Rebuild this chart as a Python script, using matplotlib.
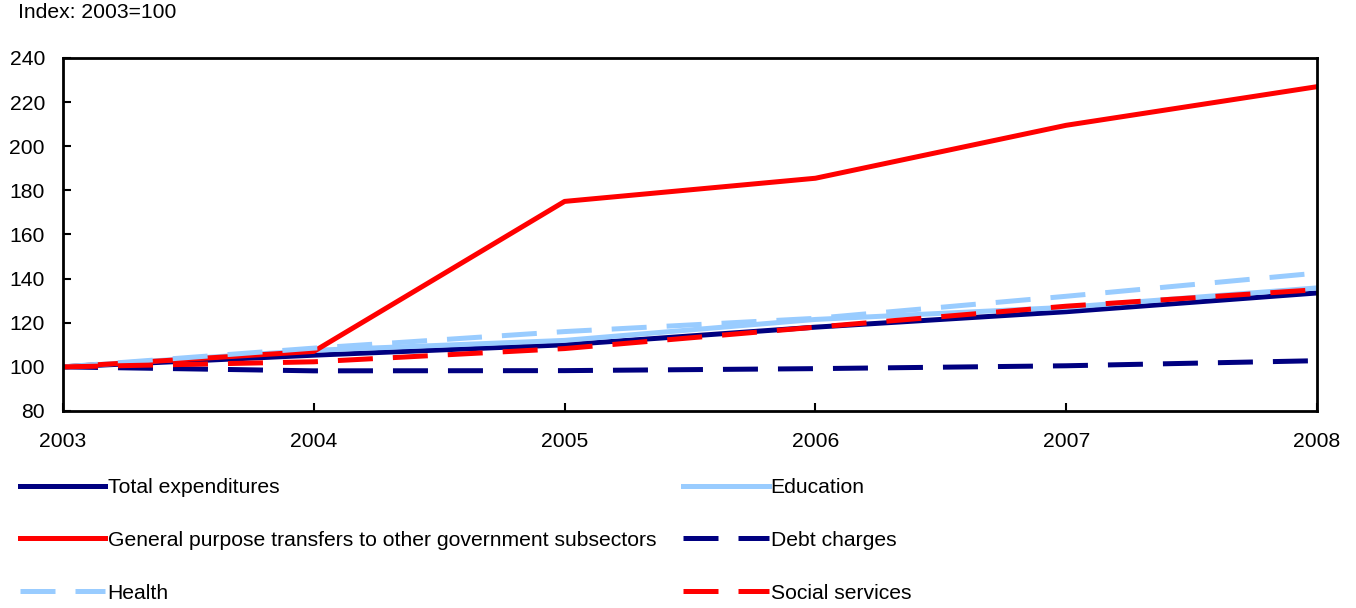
import matplotlib
matplotlib.use("Agg")
import matplotlib.pyplot as plt

plt.rcParams["font.family"] = ["Liberation Sans", "DejaVu Sans"]

years = [2003, 2004, 2005, 2006, 2007, 2008]
total = [100, 105.3, 110, 118, 125, 133.5]
general_transfers = [100, 107, 175, 185.5, 209.5, 227]
health = [100, 108.5, 116, 122, 132, 142.5]
education = [100, 107.5, 112, 121.5, 127, 135.8]
debt = [100, 98.2, 98.3, 99.2, 100.5, 102.8]
social = [100, 102.3, 108.3, 118, 127.5, 135]

NAVY = "#000080"
RED = "#FF0000"
LIGHT = "#99CCFF"
DASH = (7.0, 4.0)

fig = plt.figure(figsize=(13.56, 6.08), dpi=100)
ax = fig.add_axes([63 / 1356, 197 / 608, 1254 / 1356, 353 / 608])

lw = 3.6
h_total, = ax.plot(years, total, color=NAVY, lw=lw, label="Total expenditures")
h_edu, = ax.plot(years, education, color=LIGHT, lw=lw, label="Education")
h_gen, = ax.plot(years, general_transfers, color=RED, lw=lw,
                 label="General purpose transfers to other government subsectors")
h_debt, = ax.plot(years, debt, color=NAVY, lw=lw, dashes=DASH, label="Debt charges")
h_health, = ax.plot(years, health, color=LIGHT, lw=lw, dashes=DASH, label="Health")
h_social, = ax.plot(years, social, color=RED, lw=lw, dashes=DASH, label="Social services")

ax.set_xlim(2003, 2008)
ax.set_ylim(80, 240)
ax.set_xticks(years)
ax.set_yticks(range(80, 241, 20))
ax.tick_params(direction="in", length=6, width=1.5, labelsize=15.2)
ax.tick_params(axis="y", pad=13)
ax.tick_params(axis="x", pad=15)
for s in ax.spines.values():
    s.set_linewidth(2)

fig.text(18 / 1356, 1 - 3 / 608, "Index: 2003=100", fontsize=15.2, va="top", ha="left")

leg_kw = dict(frameon=False, fontsize=15.2, handlelength=4.05, handletextpad=0.1,
              labelspacing=1.6, borderaxespad=0, borderpad=0, loc="upper left")
leg1 = fig.legend([h_total, h_gen, h_health],
                  [h.get_label() for h in [h_total, h_gen, h_health]],
                  bbox_to_anchor=(20 / 1356, 1 - 478 / 608), **leg_kw)
leg2 = fig.legend([h_edu, h_debt, h_social],
                  [h.get_label() for h in [h_edu, h_debt, h_social]],
                  bbox_to_anchor=(683 / 1356, 1 - 478 / 608), **leg_kw)

fig.savefig("out.png", dpi=100)
